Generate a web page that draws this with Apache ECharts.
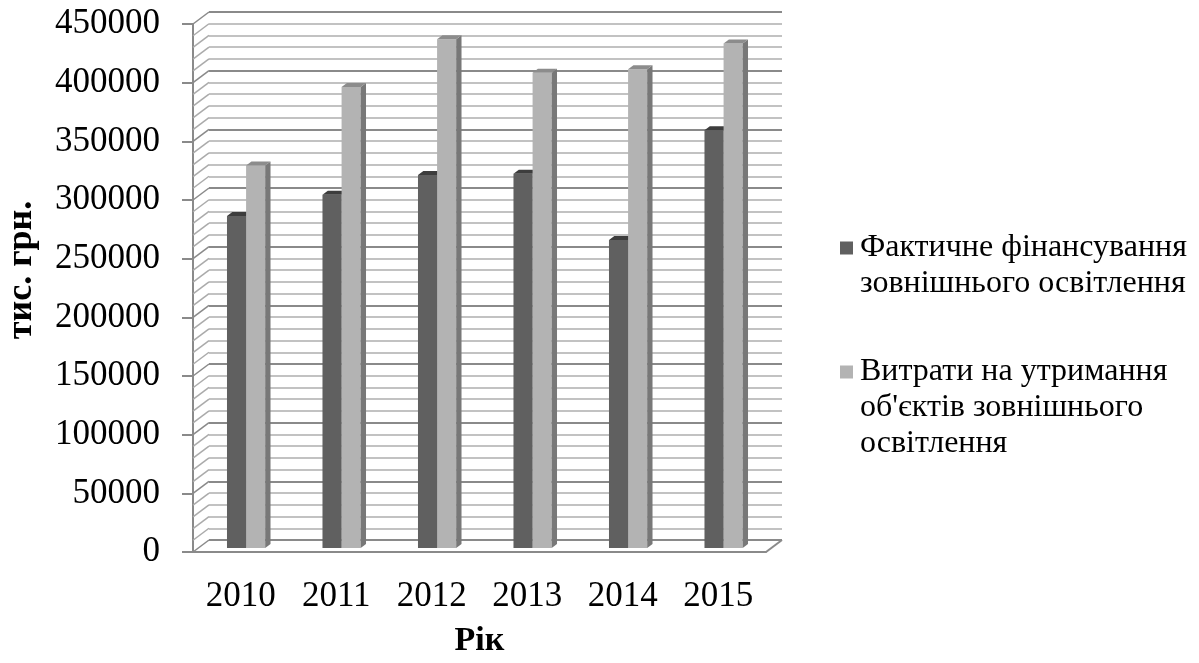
<!DOCTYPE html>
<html>
<head>
<meta charset="utf-8">
<script src="https://cdn.jsdelivr.net/npm/echarts@6/dist/echarts.min.js"></script>
<style>
  html, body { margin: 0; padding: 0; background: #ffffff; }
  #chart { width: 1199px; height: 663px; }
</style>
</head>
<body>
<div id="chart"></div>
<script>
// Years on the category axis
const years = ['2010', '2011', '2012', '2013', '2014', '2015'];
// Actual funding of street lighting, thousand UAH
const actualFunding = [283000, 301000, 318000, 319000, 262500, 356000];
// Maintenance costs of street lighting objects, thousand UAH
const maintenanceCost = [326000, 393000, 433500, 405000, 408000, 430000];
// Legend captions, split into the lines they are shown on
const legendLines = [
  ['Фактичне фінансування', 'зовнішнього освітлення'],
  ['Витрати на утримання', "об'єктів зовнішнього", 'освітлення']
];
const seriesNames = legendLines.map(l => l.join(' '));
// Value axis: range, labelled step and grid step
const yMax = 450000;
const yMajor = 50000;
const yMinor = 10000;

const FONT = "'Liberation Serif', 'Times New Roman', serif";
// Depth of the pseudo-3D box (back wall offset) and of each bar
const WALL_DX = 16, WALL_DY = 12;
const BAR_DX = WALL_DX / 3, BAR_DY = WALL_DY / 3;
const palette = [
  { front: '#606060', side: '#4a4a4a', top: '#3d3d3d' },
  { front: '#b3b3b3', side: '#787878', top: '#8c8c8c' }
];
const MINOR_LINE = '#c2c2c2';
const MAJOR_LINE = '#8a8a8a';
const LEGEND_LINE_H = 36;

const chart = echarts.init(document.getElementById('chart'), null, { renderer: 'canvas' });

// Draws one bar as a front face, a right side face and a top face
function barRenderer(si) {
  return function (params, api) {
    const idx = api.value(0);
    const val = api.value(1);
    const top = api.coord([idx, val]);
    const base = api.coord([idx, 0]);
    const band = api.size([1, 0])[0];
    const w = band * 0.2;
    const x0 = top[0] + BAR_DX - (si === 0 ? w : 0);
    const yT = top[1] - BAR_DY;
    const yB = base[1] - BAR_DY;
    const c = palette[si];
    return {
      type: 'group',
      children: [
        { type: 'rect', shape: { x: x0, y: yT, width: w, height: yB - yT }, style: { fill: c.front } },
        { type: 'polygon', shape: { points: [[x0 + w, yT], [x0 + w + BAR_DX, yT - BAR_DY], [x0 + w + BAR_DX, yB - BAR_DY], [x0 + w, yB]] }, style: { fill: c.side } },
        { type: 'polygon', shape: { points: [[x0, yT], [x0 + BAR_DX, yT - BAR_DY], [x0 + w + BAR_DX, yT - BAR_DY], [x0 + w, yT]] }, style: { fill: c.top } }
      ]
    };
  };
}

// Side wall hatching (one slanted line per grid step) and the floor's right edge
function wallRenderer(params, api) {
  const cs = params.coordSys;
  const left = cs.x;
  const right = cs.x + cs.width;
  const children = [];
  for (let v = 0; v <= yMax; v += yMinor) {
    const y = api.coord([0, v])[1];
    const major = v % yMajor === 0;
    children.push({
      type: 'line',
      shape: { x1: left, y1: y, x2: left + WALL_DX, y2: y - WALL_DY },
      style: { stroke: major ? MAJOR_LINE : '#ababab', lineWidth: 1.5 }
    });
  }
  const y0 = api.coord([0, 0])[1];
  children.push({
    type: 'line',
    shape: { x1: right, y1: y0, x2: right + WALL_DX, y2: y0 - WALL_DY },
    style: { stroke: MAJOR_LINE, lineWidth: 2 }
  });
  return { type: 'group', children: children };
}

// One legend block per series; blank lines above keep the marker level with the first caption line
function legendBlock(i, firstLineY) {
  const n = legendLines[i].length;
  return {
    orient: 'vertical', left: 835, top: firstLineY - (n - 1) * LEGEND_LINE_H - LEGEND_LINE_H / 2,
    icon: 'rect', itemWidth: 13, itemHeight: 13,
    selectedMode: false,
    data: [seriesNames[i]],
    formatter: function () {
      return new Array(n).join('\n') + legendLines[i].join('\n');
    },
    textStyle: {
      fontFamily: FONT, fontSize: 32, color: '#000', lineHeight: LEGEND_LINE_H,
      padding: [0, 0, 0, 2]
    }
  };
}

const option = {
  animation: false,
  backgroundColor: '#ffffff',
  textStyle: { fontFamily: FONT },
  color: [palette[0].front, palette[1].front],
  grid: [
    // front plane: axes and bars
    { left: 193, right: 1199 - 766, top: 24, bottom: 663 - 552 },
    // back wall with the grid lines
    { left: 193 + WALL_DX, right: 1199 - 766 - WALL_DX, top: 24 - WALL_DY, bottom: 663 - 552 + WALL_DY }
  ],
  xAxis: [
    {
      gridIndex: 0, type: 'category', data: years,
      axisLine: { show: true, lineStyle: { color: MAJOR_LINE, width: 2 } },
      axisTick: { show: false },
      axisLabel: { fontFamily: FONT, fontSize: 35, color: '#000', margin: 27 },
      name: 'Рік', nameLocation: 'middle', nameGap: 72,
      nameTextStyle: { fontFamily: FONT, fontSize: 34, fontWeight: 'bold', color: '#000' }
    },
    { gridIndex: 1, type: 'category', data: years, show: false }
  ],
  yAxis: [
    {
      gridIndex: 0, type: 'value', min: 0, max: yMax, interval: yMajor,
      axisLine: { show: true, lineStyle: { color: MAJOR_LINE, width: 2 } },
      axisTick: { show: true, length: 11, lineStyle: { color: MAJOR_LINE, width: 2 } },
      axisLabel: { fontFamily: FONT, fontSize: 35, color: '#000', margin: 33, formatter: v => String(v) },
      splitLine: { show: false }
    },
    {
      gridIndex: 1, type: 'value', min: 0, max: yMax, interval: yMinor,
      axisLine: { show: false }, axisTick: { show: false }, axisLabel: { show: false },
      splitLine: { show: true, lineStyle: { color: MINOR_LINE, width: 2 } }
    },
    {
      gridIndex: 1, type: 'value', min: 0, max: yMax, interval: yMajor,
      axisLine: { show: false }, axisTick: { show: false }, axisLabel: { show: false },
      splitLine: { show: true, lineStyle: { color: MAJOR_LINE, width: 2 } }
    }
  ],
  legend: [legendBlock(0, 243), legendBlock(1, 367)],
  graphic: [
    {
      type: 'text', x: 22, y: 270, rotation: Math.PI / 2,
      style: { text: 'тис. грн.', fontFamily: FONT, fontSize: 36, fontWeight: 'bold', fill: '#000', align: 'center', verticalAlign: 'middle' }
    }
  ],
  series: [
    {
      type: 'custom', xAxisIndex: 0, yAxisIndex: 0, silent: true, z: 1,
      renderItem: wallRenderer, data: [[0, 0]]
    },
    {
      name: seriesNames[0], type: 'custom', xAxisIndex: 0, yAxisIndex: 0, z: 3,
      itemStyle: { color: palette[0].front },
      renderItem: barRenderer(0),
      data: years.map((y, i) => [i, actualFunding[i]])
    },
    {
      name: seriesNames[1], type: 'custom', xAxisIndex: 0, yAxisIndex: 0, z: 3,
      itemStyle: { color: palette[1].front },
      renderItem: barRenderer(1),
      data: years.map((y, i) => [i, maintenanceCost[i]])
    }
  ]
};

chart.setOption(option);
</script>
</body>
</html>
